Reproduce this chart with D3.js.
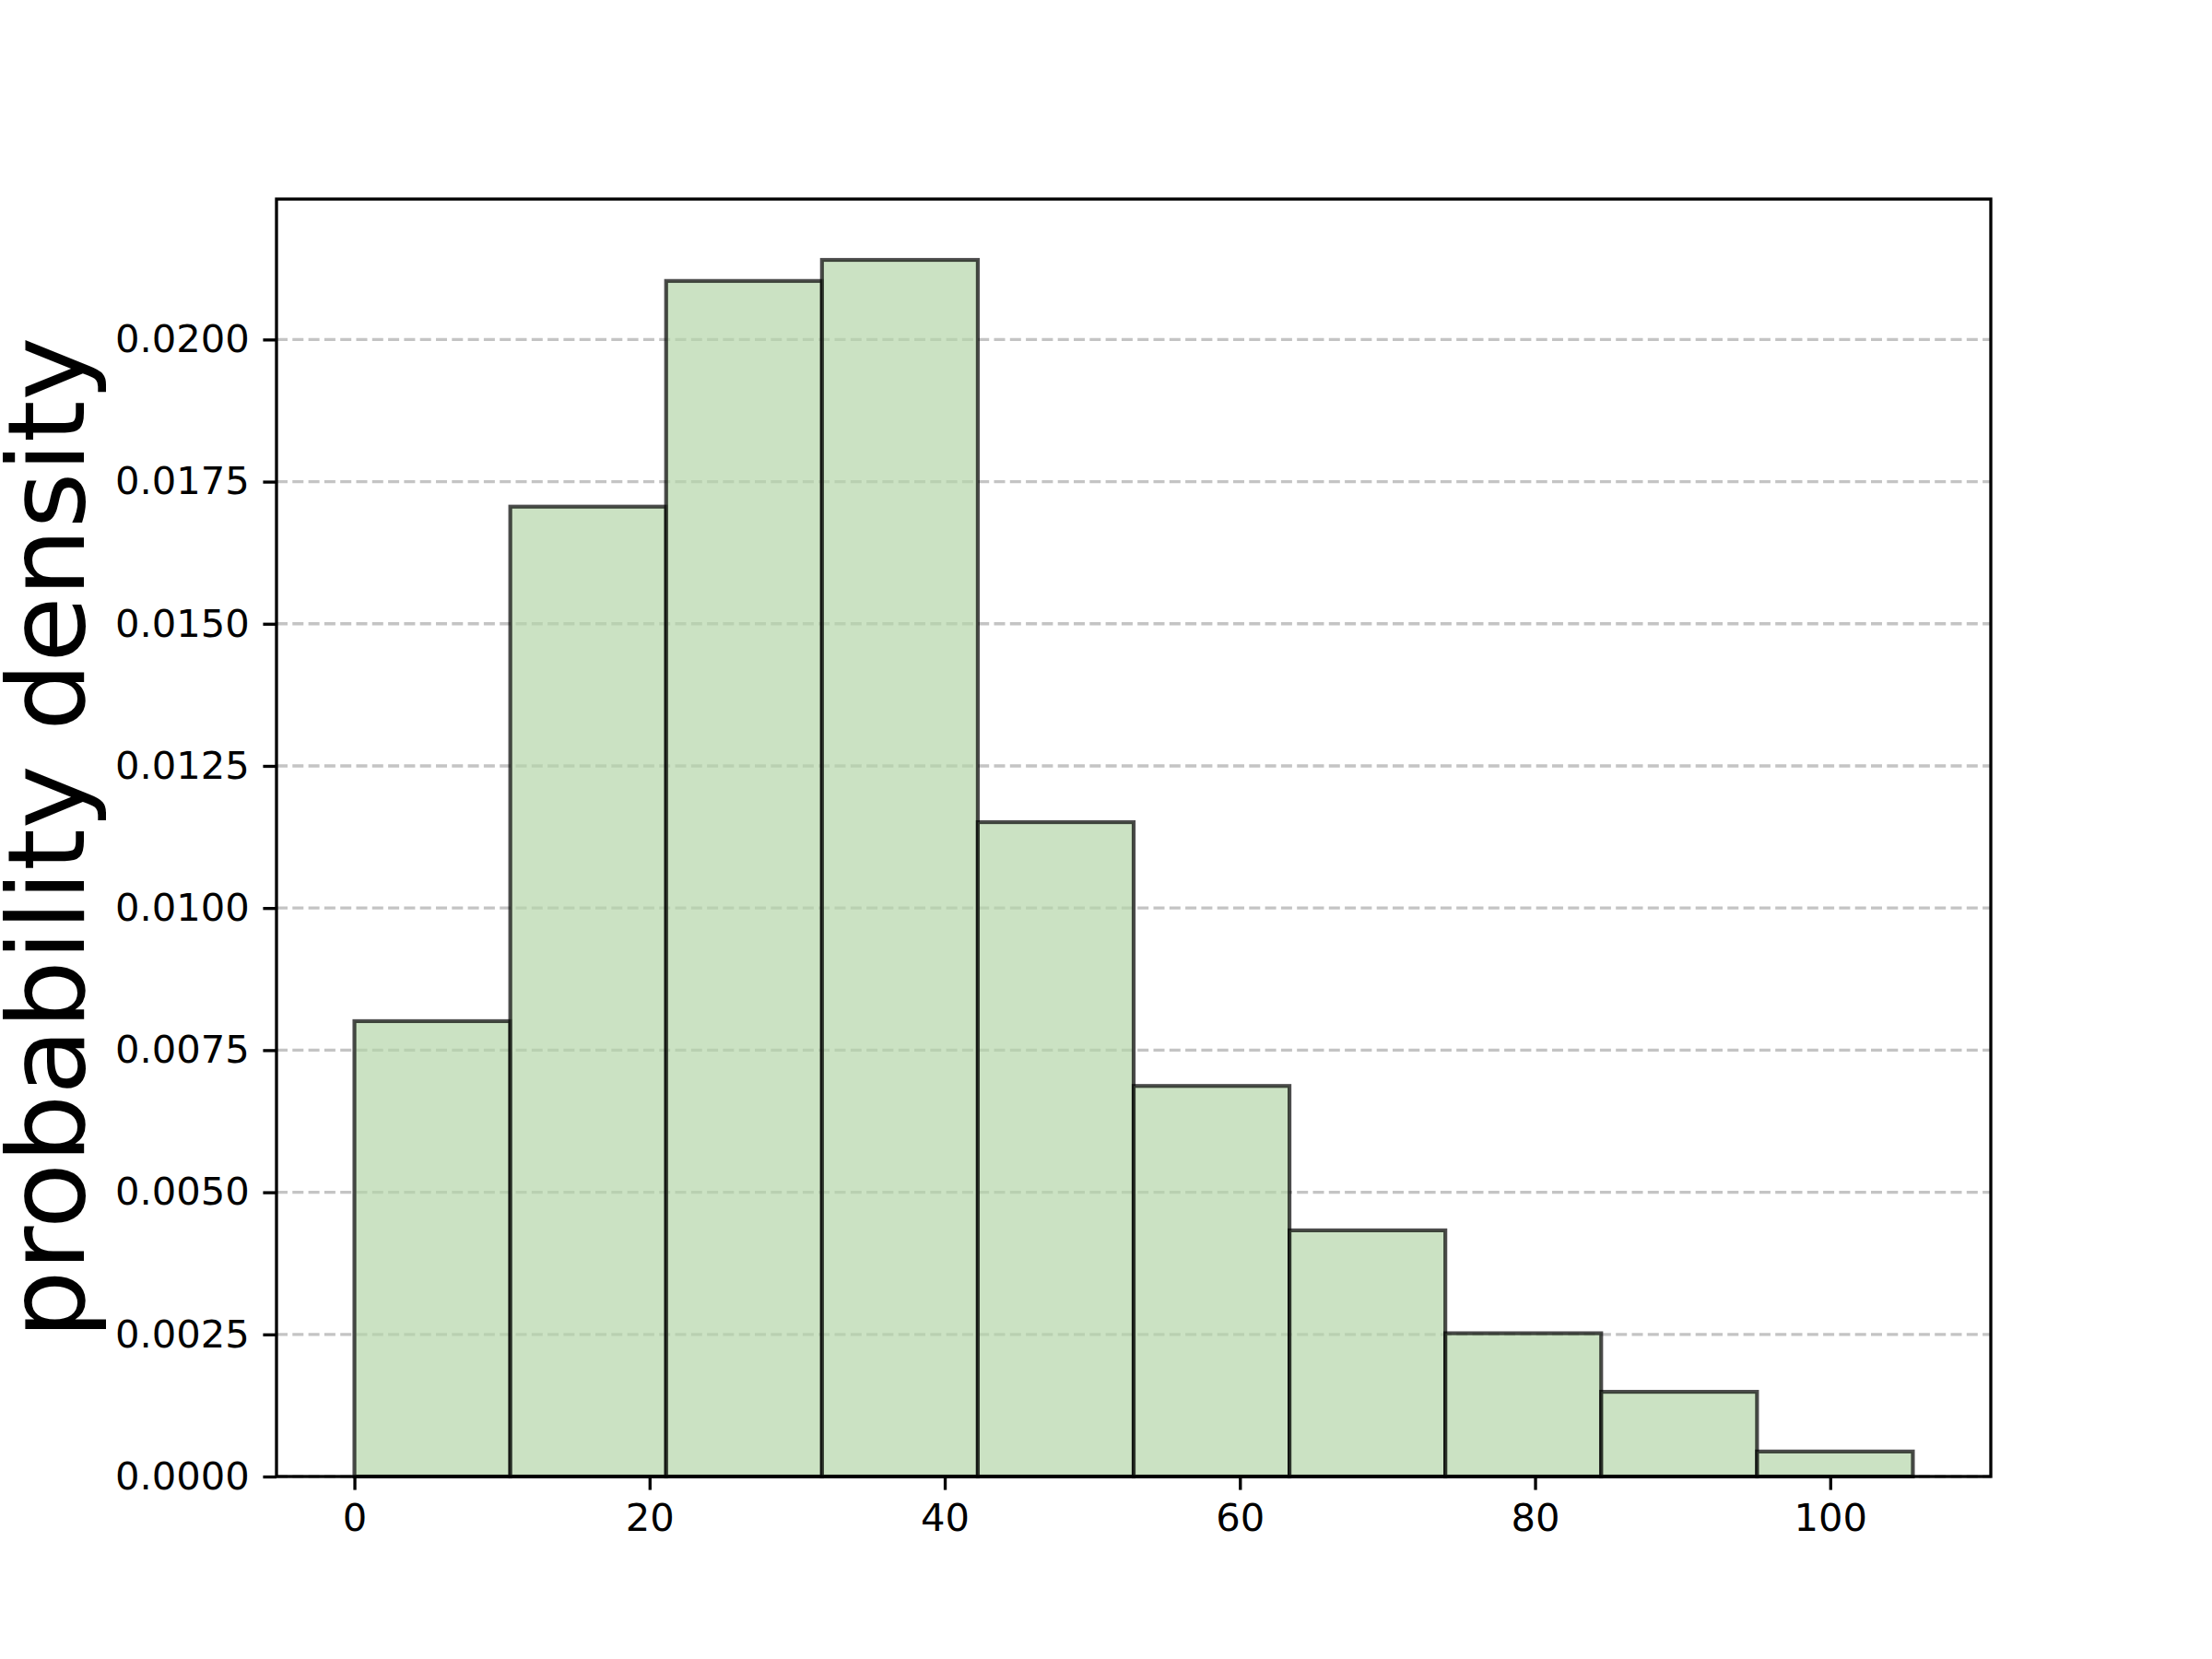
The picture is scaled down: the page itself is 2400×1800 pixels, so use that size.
<!DOCTYPE html>
<html>
<head>
<meta charset="utf-8">
<script src="https://cdn.jsdelivr.net/npm/d3@7"></script>
<style>
  html, body { margin: 0; padding: 0; background: #fff; }
  svg { display: block; }
  text { font-family: "DejaVu Sans", sans-serif; }
</style>
</head>
<body>
<svg id="chart" width="2400" height="1800"></svg>
<script>
// ---- data ----
const binEdges = [0, 10.56, 21.12, 31.68, 42.24, 52.8, 63.36, 73.92, 84.48, 95.04, 105.6];
const densities = [0.00801, 0.01706, 0.02103, 0.02140, 0.01151, 0.00687, 0.00433, 0.00252, 0.00149, 0.00044];
const xTicks = [0, 20, 40, 60, 80, 100];
const yTicks = [0, 0.0025, 0.005, 0.0075, 0.01, 0.0125, 0.015, 0.0175, 0.02];
const yLabel = "probability density";

// ---- layout ----
const plotL = 300, plotR = 2160, plotT = 216, plotB = 1602;
const pt = 300 / 72;

const svg = d3.select("#chart");

const xMin = d3.min(binEdges), xMax = d3.max(binEdges);
const xPad = (xMax - xMin) * 0.05;
const x = d3.scaleLinear().domain([xMin - xPad, xMax + xPad]).range([plotL, plotR]);
const y = d3.scaleLinear().domain([0, d3.max(densities) * 1.05]).range([plotB, plotT]);

// grid
svg.append("g").selectAll("line").data(yTicks).join("line")
  .attr("x1", plotL).attr("x2", plotR)
  .attr("y1", d => y(d)).attr("y2", d => y(d))
  .attr("stroke", "#c4c4c4")
  .attr("stroke-width", 0.8 * pt)
  .attr("stroke-dasharray", "12,5.3");

// bars
const bins = densities.map((d, i) => ({ x0: binEdges[i], x1: binEdges[i + 1], v: d }));
svg.append("g").selectAll("rect").data(bins).join("rect")
  .attr("x", d => x(d.x0))
  .attr("y", d => y(d.v))
  .attr("width", d => x(d.x1) - x(d.x0))
  .attr("height", d => y(0) - y(d.v))
  .attr("fill", "#b5d6a9")
  .attr("fill-opacity", 0.7)
  .attr("stroke", "#000")
  .attr("stroke-opacity", 0.7)
  .attr("stroke-width", 1 * pt);

// axes
const tickLen = 3.5 * pt;
const fontSize = 10 * pt;

const xAxis = svg.append("g")
  .attr("transform", `translate(0,${plotB})`)
  .call(d3.axisBottom(x).tickValues(xTicks).tickFormat(d3.format("d"))
        .tickSize(tickLen).tickPadding(3.5 * pt).tickSizeOuter(0));
const yAxis = svg.append("g")
  .attr("transform", `translate(${plotL},0)`)
  .call(d3.axisLeft(y).tickValues(yTicks).tickFormat(d3.format(".4f"))
        .tickSize(tickLen).tickPadding(3.5 * pt).tickSizeOuter(0));

[xAxis, yAxis].forEach(g => {
  g.select(".domain").remove();
  g.selectAll(".tick line").attr("stroke", "#000").attr("stroke-width", 0.8 * pt);
  g.selectAll(".tick text").attr("fill", "#000")
    .style("font-family", "'DejaVu Sans', sans-serif")
    .style("font-size", fontSize + "px");
});

// frame (spines)
svg.append("rect")
  .attr("x", plotL).attr("y", plotT)
  .attr("width", plotR - plotL).attr("height", plotB - plotT)
  .attr("fill", "none").attr("stroke", "#000").attr("stroke-width", 0.8 * pt);

// y label
svg.append("text")
  .attr("transform", `translate(91,${(plotT + plotB) / 2}) rotate(-90)`)
  .attr("text-anchor", "middle")
  .style("font-size", (28 * pt) + "px")
  .attr("fill", "#000")
  .text(yLabel);
</script>
</body>
</html>
